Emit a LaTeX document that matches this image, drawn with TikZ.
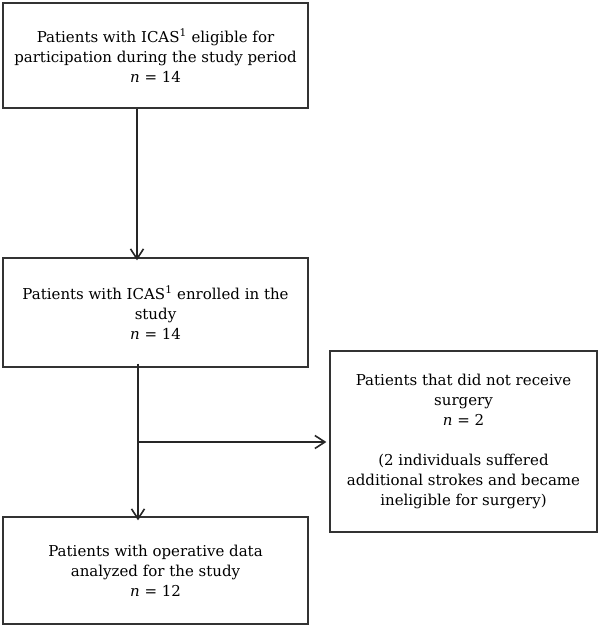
\documentclass[tikz,border=0pt]{standalone}
\usepackage{fontspec}
\setmainfont{DejaVu Serif}
\usepackage{tikz}
\usetikzlibrary{arrows.meta}
\tikzset{>={Straight Barb[width=13pt,length=10pt,line width=1.6pt]}}
\tikzset{
  flowbox/.style={draw=black!80, line width=1.3pt, align=center, inner sep=0pt,
    minimum width=305pt, minimum height=#1},
  flowbox/.default=107pt,
  flowline/.style={draw=black!85, line width=1.2pt}
}

\begin{document}
\begin{tikzpicture}[x=1pt,y=-1pt]

  \fontsize{15}{20}\selectfont

  \useasboundingbox (0,0) rectangle (600,627);

  \node[flowbox=105pt] (elig) at (155.5, 55.5)
    {Patients with ICAS\textsuperscript{1} eligible for\\participation during the study period\\\textit{n} = 14};
  \node[flowbox=109pt] (enrol) at (155.5, 312.5)
    {Patients with ICAS\textsuperscript{1} enrolled in the\\study\\\textit{n} = 14};
  \node[flowbox=181pt, minimum width=267pt] (nosurg) at (463.5, 441.5)
    {Patients that did not receive\\surgery\\\textit{n} = 2\\[20pt](2 individuals suffered\\additional strokes and became\\ineligible for surgery)};
  \node[flowbox] (anal) at (155.5, 570.5)
    {Patients with operative data\\analyzed for the study\\\textit{n} = 12};

  \coordinate (split) at (139, 442);

  \draw[flowline,->] ([xshift=-18.5pt]elig.south) -- ([xshift=-18.5pt,yshift=-3pt]enrol.north); % elig->enrol
  \draw[flowline,->] ([xshift=-17.5pt,yshift=4pt]enrol.south) -- ([xshift=-17.5pt,yshift=-4pt]anal.north); % enrol->anal
  \draw[flowline,->] (split) -- ([xshift=-3pt]split -| nosurg.west); % side exit

\end{tikzpicture}
\end{document}
